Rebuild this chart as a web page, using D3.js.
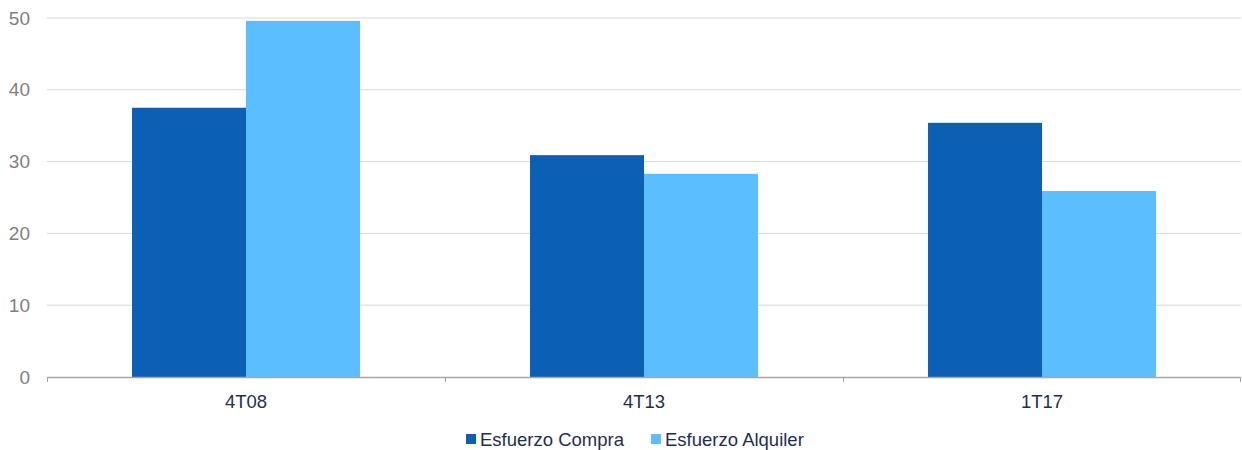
<!DOCTYPE html>
<html>
<head>
<meta charset="utf-8">
<script src="https://cdn.jsdelivr.net/npm/d3@7"></script>
<style>
  html, body { margin: 0; padding: 0; background: #fff; }
  svg { display: block; font-family: "Liberation Sans", Arial, sans-serif; }
</style>
</head>
<body>
<svg id="chart" width="1242" height="450"></svg>
<script>
// Periods and effort values (share of income, %)
const categories = ["4T08", "4T13", "1T17"];
const seriesNames = ["Esfuerzo Compra", "Esfuerzo Alquiler"];
const compra = [37.5, 30.9, 35.4];
const alquiler = [49.6, 28.3, 25.9];
const yTicks = [0, 10, 20, 30, 40, 50];
const colors = ["#0b5fb5", "#5bbefe"];

const svg = d3.select("#chart");
const margin = { left: 47, right: 1, top: 18, bottom: 73 };
const width = 1242 - margin.left - margin.right;
const height = 450 - margin.top - margin.bottom;

const g = svg.append("g").attr("transform", `translate(${margin.left},${margin.top})`);

const x0 = d3.scaleBand().domain(categories).range([0, width]).paddingInner(0).paddingOuter(0);
const x1 = d3.scaleBand().domain(seriesNames).range([0, x0.bandwidth()]).paddingInner(0).paddingOuter(0.746);
const y = d3.scaleLinear().domain([0, 50]).range([height, 0]);

// Horizontal gridlines
g.append("g")
  .selectAll("line")
  .data(yTicks.filter(d => d > 0))
  .join("line")
  .attr("x1", 0).attr("x2", width)
  .attr("y1", d => y(d)).attr("y2", d => y(d))
  .attr("stroke", "#d9d9d9").attr("stroke-width", 1);

// Y axis labels
const yAxis = g.append("g").call(d3.axisLeft(y).tickValues(yTicks).tickSize(0).tickPadding(17));
yAxis.select(".domain").remove();
yAxis.selectAll("text").attr("fill", "#7f7f7f").attr("font-size", 19).attr("font-family", "Liberation Sans, Arial, sans-serif");

// Bars
const rows = categories.map((c, i) => ({ cat: c, values: [compra[i], alquiler[i]] }));
const groups = g.append("g").selectAll("g")
  .data(rows).join("g")
  .attr("transform", d => `translate(${x0(d.cat)},0)`);
groups.selectAll("rect")
  .data(d => d.values.map((v, j) => ({ name: seriesNames[j], v, j })))
  .join("rect")
  .attr("x", d => x1(d.name))
  .attr("width", x1.bandwidth())
  .attr("y", d => y(d.v))
  .attr("height", d => y(0) - y(d.v))
  .attr("fill", d => colors[d.j]);

// X axis with boundary ticks
const xAxisG = g.append("g").attr("transform", `translate(0,${height})`);
xAxisG.append("line")
  .attr("x1", 0).attr("x2", width).attr("y1", 0.5).attr("y2", 0.5)
  .attr("stroke", "#a6a6a6").attr("stroke-width", 1.5);
const bounds = categories.map(c => x0(c)).concat([width]);
xAxisG.selectAll("line.tick")
  .data(bounds).join("line").attr("class", "tick")
  .attr("x1", d => Math.min(Math.round(d) + 0.5, width - 0.5)).attr("x2", d => Math.min(Math.round(d) + 0.5, width - 0.5))
  .attr("y1", 0).attr("y2", 5)
  .attr("stroke", "#a6a6a6").attr("stroke-width", 1);
xAxisG.selectAll("text")
  .data(categories).join("text")
  .attr("x", d => x0(d) + x0.bandwidth() / 2)
  .attr("y", 31)
  .attr("text-anchor", "middle")
  .attr("fill", "#1f2e4f")
  .attr("font-size", 18.5)
  .text(d => d);

// Legend
const legend = svg.append("g").attr("transform", "translate(0,439)");
const items = [{ name: seriesNames[0], x: 466 }, { name: seriesNames[1], x: 651 }];
items.forEach((it, i) => {
  legend.append("rect").attr("x", it.x).attr("y", -5).attr("width", 10).attr("height", 10).attr("fill", colors[i]);
  legend.append("text").attr("x", it.x + 14).attr("y", 7)
    .attr("fill", "#1f2e4f").attr("font-size", 18.5).text(it.name);
});
</script>
</body>
</html>
